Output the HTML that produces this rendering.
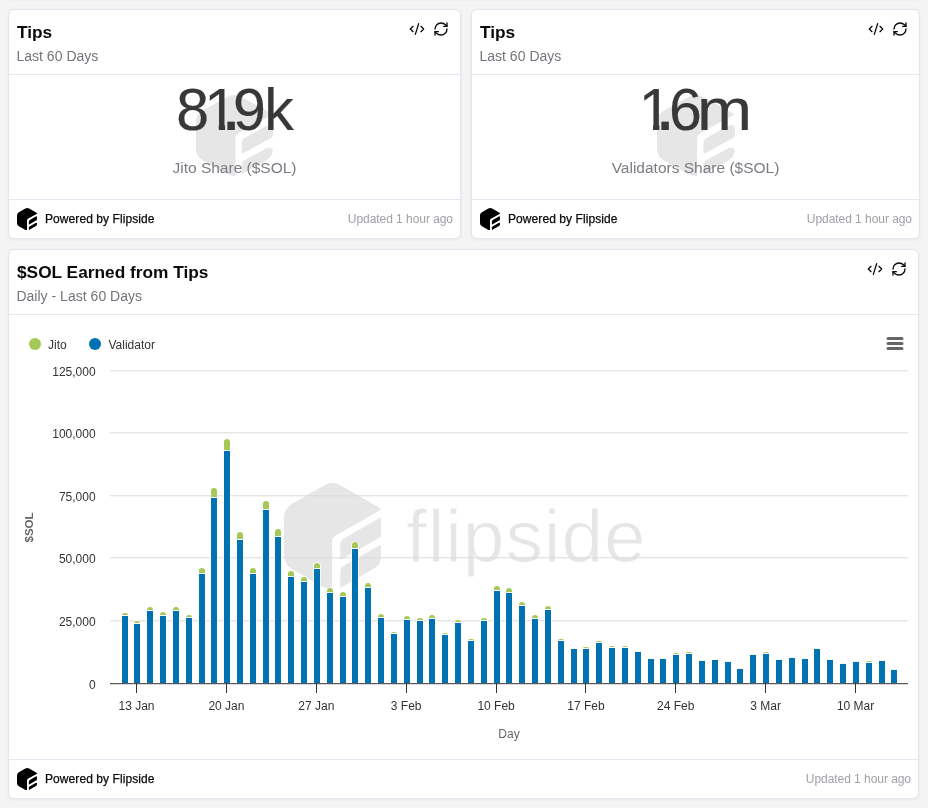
<!DOCTYPE html>
<html><head><meta charset="utf-8"><title>Tips</title>
<style>
html,body{margin:0;padding:0}
body{width:928px;height:808px;overflow:hidden;background:#f4f4f5;font-family:"Liberation Sans",Arial,sans-serif;position:relative}
.topsh{position:absolute;left:10px;top:0;width:908px;height:2px;background:linear-gradient(#ececed,#f4f4f5)}
.card{position:absolute;background:#fff;border:1px solid #dfe6f0;border-radius:6px;box-sizing:border-box;box-shadow:0 1px 3px rgba(0,0,0,0.06)}
.hr{position:absolute;height:1px;background:#e2e8f0}
.abs{position:absolute}
.ttl{position:absolute;margin-top:0.2px;font-weight:bold;font-size:17.3px;color:#0a0a0a;white-space:nowrap;line-height:20px}
.sub{position:absolute;margin-left:-0.6px;font-size:14px;color:#74747c;white-space:nowrap;line-height:16px;letter-spacing:0.02px}
.ic{position:absolute}
.big{position:absolute;font-size:59px;color:#383838;white-space:nowrap;line-height:60px;-webkit-text-stroke:0.22px #383838}
.big .one{display:inline-block;clip-path:polygon(0 0,20.7px 0,20.7px 60px,14.4px 60px,14.4px 44.8px,0 44.8px)}
.big .dot{font-size:76.7px;line-height:0}
.big .m{display:inline-block;transform:scaleX(1.12);transform-origin:0 0}
.lab{position:absolute;margin-top:0.6px;font-size:15.5px;color:#7b7b84;white-space:nowrap;line-height:18px;text-align:center}
.pw{position:absolute;margin-top:1px;letter-spacing:0.08px;font-size:12px;color:#0a0a0a;white-space:nowrap;line-height:16px;-webkit-text-stroke:0.25px #0a0a0a}
.upd{position:absolute;margin-top:1px;letter-spacing:-0.05px;font-size:12px;color:#a0a0a6;white-space:nowrap;line-height:14px}
.chart{position:absolute;left:0;top:0}
.wm{position:absolute;font-size:75px;color:#e6e6e6;white-space:nowrap;line-height:80px;letter-spacing:0.9px;-webkit-text-stroke:1px #fff}
</style></head><body>
<svg width="0" height="0" style="position:absolute"><defs>
<clipPath id="hexclip"><path d="M40.00,2.41A17.00,17.00 0 0 1 57.00,2.41L95.50,24.63A3.00,3.00 0 0 1 97.00,27.23L97.00,73.99A13.00,13.00 0 0 1 90.50,85.25L57.00,104.59A17.00,17.00 0 0 1 40.00,104.59L8.50,86.41A17.00,17.00 0 0 1 0.00,71.69L0.00,35.31A17.00,17.00 0 0 1 8.50,20.59Z"/></clipPath><clipPath id="hexclip3"><path d="M39.50,2.70A18.00,18.00 0 0 1 57.50,2.70L92.50,22.90A9.00,9.00 0 0 1 97.00,30.70L97.00,68.80A22.00,22.00 0 0 1 86.00,87.85L57.00,104.59A17.00,17.00 0 0 1 40.00,104.59L9.00,86.70A18.00,18.00 0 0 1 0.00,71.11L0.00,35.89A18.00,18.00 0 0 1 9.00,20.30Z"/></clipPath><clipPath id="hexclip2"><path d="M39.50,2.70A18.00,18.00 0 0 1 57.50,2.70L94.50,24.06A5.00,5.00 0 0 1 97.00,28.39L97.00,71.11A18.00,18.00 0 0 1 88.00,86.70L57.00,104.59A17.00,17.00 0 0 1 40.00,104.59L9.00,86.70A18.00,18.00 0 0 1 0.00,71.11L0.00,35.89A18.00,18.00 0 0 1 9.00,20.30Z"/></clipPath>
<symbol id="fslogo" viewBox="0 0 97 107" preserveAspectRatio="none"><g clip-path="url(#hexclip)"><path d="M-20.00,-20.00L120.00,-20.00L120.00,13.22L50.45,53.38A4.50,4.50 0 0 0 48.20,57.27L48.20,130.00L-20.00,130.00Z"/><path d="M56.30,61.35A6.50,6.50 0 0 1 59.55,55.72L97.00,34.10L97.00,53.70L57.80,76.33A1.00,1.00 0 0 1 56.30,75.47Z"/><path d="M56.30,88.75A6.50,6.50 0 0 1 59.55,83.12L97.00,61.50L97.00,140.00L56.30,140.00Z"/></g></symbol>
<symbol id="fslogo3" viewBox="0 0 97 107" preserveAspectRatio="none"><g clip-path="url(#hexclip3)"><path d="M-20.00,-20.00L120.00,-20.00L120.00,12.22L51.80,51.60A9.00,9.00 0 0 0 47.30,59.39L47.30,130.00L-20.00,130.00Z"/><path d="M56.20,64.75A9.00,9.00 0 0 1 60.70,56.96L88.64,40.83A5.57,5.57 0 0 1 97.00,45.65L97.00,51.84A6.00,6.00 0 0 1 94.00,57.03L57.70,77.99A1.00,1.00 0 0 1 56.20,77.12Z"/><path d="M56.20,94.35A9.00,9.00 0 0 1 60.70,86.56L88.00,70.80A6.00,6.00 0 0 1 97.00,75.99L97.00,140.00L56.20,140.00Z"/></g></symbol>
<symbol id="fslogo2" viewBox="0 0 97 107" preserveAspectRatio="none"><g clip-path="url(#hexclip2)"><path d="M-20.00,-20.00L120.00,-20.00L120.00,12.22L54.30,50.15A9.00,9.00 0 0 0 49.80,57.95L49.80,130.00L-20.00,130.00Z"/><path d="M57.70,63.89A9.00,9.00 0 0 1 62.20,56.09L89.50,40.33A5.00,5.00 0 0 1 97.00,44.66L97.00,52.41A5.00,5.00 0 0 1 94.50,56.74L59.20,77.12A1.00,1.00 0 0 1 57.70,76.26Z"/><path d="M57.70,93.49A9.00,9.00 0 0 1 62.20,85.69L89.50,69.93A5.00,5.00 0 0 1 97.00,74.26L97.00,140.00L57.70,140.00Z"/></g></symbol>
</defs></svg>
<div class="topsh"></div>
<div class="card" style="left:8px;top:9px;width:453px;height:230px"></div>
<div class="card" style="left:471px;top:9px;width:449px;height:230px"></div>
<div class="card" style="left:8px;top:249px;width:911px;height:550px"></div>

<!-- card 1 -->
<div class="ttl" style="left:17px;top:22px">Tips</div>
<div class="sub" style="left:17px;top:48px">Last 60 Days</div>
<svg class="ic" style="left:409px;top:21px" width="16" height="16" viewBox="0 0 24 24" fill="none" stroke="#0a0a0a" stroke-width="2" stroke-linecap="round" stroke-linejoin="round"><path d="m18 16 4-4-4-4"/><path d="m6 8-4 4 4 4"/><path d="m14.5 4-5 16"/></svg>
<svg class="ic" style="left:433px;top:21px" width="16" height="16" viewBox="0 0 24 24" fill="none" stroke="#0a0a0a" stroke-width="2" stroke-linecap="round" stroke-linejoin="round"><path d="M3 12a9 9 0 0 1 9-9 9.75 9.75 0 0 1 6.74 2.74L21 8"/><path d="M21 3v5h-5"/><path d="M21 12a9 9 0 0 1-9 9 9.75 9.75 0 0 1-6.74-2.74L3 16"/><path d="M8 16H3v5"/></svg>
<div class="hr" style="left:9px;top:74px;width:451px"></div>
<svg class="abs" style="left:196px;top:95px" width="77" height="81"><use href="#fslogo2" width="77" height="81" fill="#e6e6e6"/></svg>
<div class="big" id="big1" style="left:176.14px;top:79.5px"><span>8</span><span class="one" style="margin-left:-4.6px">1</span><span class="dot" style="margin-left:-16.76px">.</span><span style="margin-left:-8.67px">9</span><span style="margin-left:-1.72px">k</span></div>
<div class="lab" style="left:9px;width:451px;top:158px">Jito Share ($SOL)</div>
<div class="hr" style="left:9px;top:199px;width:451px"></div>
<svg class="abs" style="left:16.5px;top:207.5px" width="20.5" height="22.5"><use href="#fslogo3" width="20.5" height="22.5" fill="#000"/></svg>
<div class="pw" style="left:45px;top:210px">Powered by Flipside</div>
<div class="upd" style="right:475px;top:211px">Updated 1 hour ago</div>

<!-- card 2 -->
<div class="ttl" style="left:480px;top:22px">Tips</div>
<div class="sub" style="left:480px;top:48px">Last 60 Days</div>
<svg class="ic" style="left:868px;top:21px" width="16" height="16" viewBox="0 0 24 24" fill="none" stroke="#0a0a0a" stroke-width="2" stroke-linecap="round" stroke-linejoin="round"><path d="m18 16 4-4-4-4"/><path d="m6 8-4 4 4 4"/><path d="m14.5 4-5 16"/></svg>
<svg class="ic" style="left:892px;top:21px" width="16" height="16" viewBox="0 0 24 24" fill="none" stroke="#0a0a0a" stroke-width="2" stroke-linecap="round" stroke-linejoin="round"><path d="M3 12a9 9 0 0 1 9-9 9.75 9.75 0 0 1 6.74 2.74L21 8"/><path d="M21 3v5h-5"/><path d="M21 12a9 9 0 0 1-9 9 9.75 9.75 0 0 1-6.74-2.74L3 16"/><path d="M8 16H3v5"/></svg>
<div class="hr" style="left:472px;top:74px;width:447px"></div>
<svg class="abs" style="left:657px;top:95px" width="78" height="81"><use href="#fslogo2" width="78" height="81" fill="#e6e6e6"/></svg>
<div class="big" id="big2" style="left:638.65px;top:79.5px"><span class="one">1</span><span class="dot" style="margin-left:-16.96px">.</span><span style="margin-left:-6.8px">6</span><span class="m" style="margin-left:-4.81px">m</span></div>
<div class="lab" style="left:472px;width:447px;top:158px">Validators Share ($SOL)</div>
<div class="hr" style="left:472px;top:199px;width:447px"></div>
<svg class="abs" style="left:479.5px;top:207.5px" width="20.5" height="22.5"><use href="#fslogo3" width="20.5" height="22.5" fill="#000"/></svg>
<div class="pw" style="left:508px;top:210px">Powered by Flipside</div>
<div class="upd" style="right:16px;top:211px">Updated 1 hour ago</div>

<!-- card 3 -->
<div class="ttl" style="left:17px;top:262px">$SOL Earned from Tips</div>
<div class="sub" style="left:17px;top:288px">Daily - Last 60 Days</div>
<svg class="ic" style="left:867px;top:261px" width="16" height="16" viewBox="0 0 24 24" fill="none" stroke="#0a0a0a" stroke-width="2" stroke-linecap="round" stroke-linejoin="round"><path d="m18 16 4-4-4-4"/><path d="m6 8-4 4 4 4"/><path d="m14.5 4-5 16"/></svg>
<svg class="ic" style="left:891px;top:261px" width="16" height="16" viewBox="0 0 24 24" fill="none" stroke="#0a0a0a" stroke-width="2" stroke-linecap="round" stroke-linejoin="round"><path d="M3 12a9 9 0 0 1 9-9 9.75 9.75 0 0 1 6.74 2.74L21 8"/><path d="M21 3v5h-5"/><path d="M21 12a9 9 0 0 1-9 9 9.75 9.75 0 0 1-6.74-2.74L3 16"/><path d="M8 16H3v5"/></svg>
<div class="hr" style="left:9px;top:314px;width:909px"></div>
<svg class="abs" style="left:284px;top:483px" width="97" height="107"><use href="#fslogo" width="97" height="107" fill="#e6e6e6"/></svg>
<div class="wm" style="left:406px;top:496.2px">flipside</div>
<svg class="chart" width="928" height="808" viewBox="0 0 928 808">
<g font-family="'Liberation Sans', Arial, sans-serif" font-size="12" fill="#333">
<path d="M110,370.8H908" stroke="#dadada" stroke-width="1"/><path d="M110,432.8H908" stroke="#dadada" stroke-width="1"/><path d="M110,495.8H908" stroke="#dadada" stroke-width="1"/><path d="M110,557.8H908" stroke="#dadada" stroke-width="1"/><path d="M110,620.8H908" stroke="#dadada" stroke-width="1"/>
<g fill="#fff"><path d="M121.3,683V615.3A3.7,3 0 0 1 125,612.3A3.7,3 0 0 1 128.7,615.3V683Z"/><path d="M133.3,683V623.3A3.7,3 0 0 1 137,620.3A3.7,3 0 0 1 140.7,623.3V683Z"/><path d="M146.3,683V609.3A3.7,3 0 0 1 150,606.3A3.7,3 0 0 1 153.7,609.3V683Z"/><path d="M159.3,683V614.3A3.7,3 0 0 1 163,611.3A3.7,3 0 0 1 166.7,614.3V683Z"/><path d="M172.3,683V609.3A3.7,3 0 0 1 176,606.3A3.7,3 0 0 1 179.7,609.3V683Z"/><path d="M185.3,683V617.3A3.7,3 0 0 1 189,614.3A3.7,3 0 0 1 192.7,617.3V683Z"/><path d="M198.3,683V570.3A3.7,3 0 0 1 202,567.3A3.7,3 0 0 1 205.7,570.3V683Z"/><path d="M210.3,683V490.3A3.7,3 0 0 1 214,487.3A3.7,3 0 0 1 217.7,490.3V683Z"/><path d="M223.3,683V441.3A3.7,3 0 0 1 227,438.3A3.7,3 0 0 1 230.7,441.3V683Z"/><path d="M236.3,683V534.3A3.7,3 0 0 1 240,531.3A3.7,3 0 0 1 243.7,534.3V683Z"/><path d="M249.3,683V570.3A3.7,3 0 0 1 253,567.3A3.7,3 0 0 1 256.7,570.3V683Z"/><path d="M262.3,683V503.3A3.7,3 0 0 1 266,500.3A3.7,3 0 0 1 269.7,503.3V683Z"/><path d="M274.3,683V531.3A3.7,3 0 0 1 278,528.3A3.7,3 0 0 1 281.7,531.3V683Z"/><path d="M287.3,683V573.3A3.7,3 0 0 1 291,570.3A3.7,3 0 0 1 294.7,573.3V683Z"/><path d="M300.3,683V579.3A3.7,3 0 0 1 304,576.3A3.7,3 0 0 1 307.7,579.3V683Z"/><path d="M313.3,683V565.3A3.7,3 0 0 1 317,562.3A3.7,3 0 0 1 320.7,565.3V683Z"/><path d="M326.3,683V590.3A3.7,3 0 0 1 330,587.3A3.7,3 0 0 1 333.7,590.3V683Z"/><path d="M339.3,683V594.3A3.7,3 0 0 1 343,591.3A3.7,3 0 0 1 346.7,594.3V683Z"/><path d="M351.3,683V544.3A3.7,3 0 0 1 355,541.3A3.7,3 0 0 1 358.7,544.3V683Z"/><path d="M364.3,683V585.3A3.7,3 0 0 1 368,582.3A3.7,3 0 0 1 371.7,585.3V683Z"/><path d="M377.3,683V616.3A3.7,3 0 0 1 381,613.3A3.7,3 0 0 1 384.7,616.3V683Z"/><path d="M390.3,683V634.3A3.7,3 0 0 1 394,631.3A3.7,3 0 0 1 397.7,634.3V683Z"/><path d="M403.3,683V618.3A3.7,3 0 0 1 407,615.3A3.7,3 0 0 1 410.7,618.3V683Z"/><path d="M416.3,683V620.3A3.7,3 0 0 1 420,617.3A3.7,3 0 0 1 423.7,620.3V683Z"/><path d="M428.3,683V617.3A3.7,3 0 0 1 432,614.3A3.7,3 0 0 1 435.7,617.3V683Z"/><path d="M441.3,683V635.3A3.7,3 0 0 1 445,632.3A3.7,3 0 0 1 448.7,635.3V683Z"/><path d="M454.3,683V622.3A3.7,3 0 0 1 458,619.3A3.7,3 0 0 1 461.7,622.3V683Z"/><path d="M467.3,683V641.3A3.7,3 0 0 1 471,638.3A3.7,3 0 0 1 474.7,641.3V683Z"/><path d="M480.3,683V620.3A3.7,3 0 0 1 484,617.3A3.7,3 0 0 1 487.7,620.3V683Z"/><path d="M493.3,683V588.3A3.7,3 0 0 1 497,585.3A3.7,3 0 0 1 500.7,588.3V683Z"/><path d="M505.3,683V590.3A3.7,3 0 0 1 509,587.3A3.7,3 0 0 1 512.7,590.3V683Z"/><path d="M518.3,683V604.3A3.7,3 0 0 1 522,601.3A3.7,3 0 0 1 525.7,604.3V683Z"/><path d="M531.3,683V617.3A3.7,3 0 0 1 535,614.3A3.7,3 0 0 1 538.7,617.3V683Z"/><path d="M544.3,683V608.3A3.7,3 0 0 1 548,605.3A3.7,3 0 0 1 551.7,608.3V683Z"/><path d="M557.3,683V641.3A3.7,3 0 0 1 561,638.3A3.7,3 0 0 1 564.7,641.3V683Z"/><path d="M570.3,683V650.3A3.7,3 0 0 1 574,647.3A3.7,3 0 0 1 577.7,650.3V683Z"/><path d="M582.3,683V649.3A3.7,3 0 0 1 586,646.3A3.7,3 0 0 1 589.7,649.3V683Z"/><path d="M595.3,683V643.3A3.7,3 0 0 1 599,640.3A3.7,3 0 0 1 602.7,643.3V683Z"/><path d="M608.3,683V648.3A3.7,3 0 0 1 612,645.3A3.7,3 0 0 1 615.7,648.3V683Z"/><path d="M621.3,683V648.3A3.7,3 0 0 1 625,645.3A3.7,3 0 0 1 628.7,648.3V683Z"/><path d="M634.3,683V653.3A3.7,3 0 0 1 638,650.3A3.7,3 0 0 1 641.7,653.3V683Z"/><path d="M647.3,683V660.3A3.7,3 0 0 1 651,657.3A3.7,3 0 0 1 654.7,660.3V683Z"/><path d="M659.3,683V660.3A3.7,3 0 0 1 663,657.3A3.7,3 0 0 1 666.7,660.3V683Z"/><path d="M672.3,683V655.3A3.7,3 0 0 1 676,652.3A3.7,3 0 0 1 679.7,655.3V683Z"/><path d="M685.3,683V654.3A3.7,3 0 0 1 689,651.3A3.7,3 0 0 1 692.7,654.3V683Z"/><path d="M698.3,683V662.3A3.7,3 0 0 1 702,659.3A3.7,3 0 0 1 705.7,662.3V683Z"/><path d="M711.3,683V661.3A3.7,3 0 0 1 715,658.3A3.7,3 0 0 1 718.7,661.3V683Z"/><path d="M724.3,683V663.3A3.7,3 0 0 1 728,660.3A3.7,3 0 0 1 731.7,663.3V683Z"/><path d="M736.3,683V670.3A3.7,3 0 0 1 740,667.3A3.7,3 0 0 1 743.7,670.3V683Z"/><path d="M749.3,683V656.3A3.7,3 0 0 1 753,653.3A3.7,3 0 0 1 756.7,656.3V683Z"/><path d="M762.3,683V654.3A3.7,3 0 0 1 766,651.3A3.7,3 0 0 1 769.7,654.3V683Z"/><path d="M775.3,683V661.3A3.7,3 0 0 1 779,658.3A3.7,3 0 0 1 782.7,661.3V683Z"/><path d="M788.3,683V659.3A3.7,3 0 0 1 792,656.3A3.7,3 0 0 1 795.7,659.3V683Z"/><path d="M801.3,683V660.3A3.7,3 0 0 1 805,657.3A3.7,3 0 0 1 808.7,660.3V683Z"/><path d="M813.3,683V650.3A3.7,3 0 0 1 817,647.3A3.7,3 0 0 1 820.7,650.3V683Z"/><path d="M826.3,683V661.3A3.7,3 0 0 1 830,658.3A3.7,3 0 0 1 833.7,661.3V683Z"/><path d="M839.3,683V665.3A3.7,3 0 0 1 843,662.3A3.7,3 0 0 1 846.7,665.3V683Z"/><path d="M852.3,683V663.3A3.7,3 0 0 1 856,660.3A3.7,3 0 0 1 859.7,663.3V683Z"/><path d="M865.3,683V663.3A3.7,3 0 0 1 869,660.3A3.7,3 0 0 1 872.7,663.3V683Z"/><path d="M878.3,683V662.3A3.7,3 0 0 1 882,659.3A3.7,3 0 0 1 885.7,662.3V683Z"/><path d="M890.3,683V671.3A3.7,3 0 0 1 894,668.3A3.7,3 0 0 1 897.7,671.3V683Z"/></g>
<rect x="122" y="616" width="6" height="67" fill="#0072b2"/>
<path d="M122,615V615A3,2 0 0 1 125,613A3,2 0 0 1 128,615V615Z" fill="#a5c957"/>
<rect x="134" y="624" width="6" height="59" fill="#0072b2"/>
<path d="M134,623V623A3,2 0 0 1 137,621A3,2 0 0 1 140,623V623Z" fill="#a5c957"/>
<rect x="147" y="611" width="6" height="72" fill="#0072b2"/>
<path d="M147,610V610A3,3 0 0 1 150,607A3,3 0 0 1 153,610V610Z" fill="#a5c957"/>
<rect x="160" y="616" width="6" height="67" fill="#0072b2"/>
<path d="M160,615V615A3,3 0 0 1 163,612A3,3 0 0 1 166,615V615Z" fill="#a5c957"/>
<rect x="173" y="611" width="6" height="72" fill="#0072b2"/>
<path d="M173,610V610A3,3 0 0 1 176,607A3,3 0 0 1 179,610V610Z" fill="#a5c957"/>
<rect x="186" y="618" width="6" height="65" fill="#0072b2"/>
<path d="M186,617V617A3,2 0 0 1 189,615A3,2 0 0 1 192,617V617Z" fill="#a5c957"/>
<rect x="199" y="574" width="6" height="109" fill="#0072b2"/>
<path d="M199,573V571A3,3 0 0 1 202,568A3,3 0 0 1 205,571V573Z" fill="#a5c957"/>
<rect x="211" y="498" width="6" height="185" fill="#0072b2"/>
<path d="M211,497V491A3,3 0 0 1 214,488A3,3 0 0 1 217,491V497Z" fill="#a5c957"/>
<rect x="224" y="451" width="6" height="232" fill="#0072b2"/>
<path d="M224,450V442A3,3 0 0 1 227,439A3,3 0 0 1 230,442V450Z" fill="#a5c957"/>
<rect x="237" y="540" width="6" height="143" fill="#0072b2"/>
<path d="M237,539V535A3,3 0 0 1 240,532A3,3 0 0 1 243,535V539Z" fill="#a5c957"/>
<rect x="250" y="574" width="6" height="109" fill="#0072b2"/>
<path d="M250,573V571A3,3 0 0 1 253,568A3,3 0 0 1 256,571V573Z" fill="#a5c957"/>
<rect x="263" y="510" width="6" height="173" fill="#0072b2"/>
<path d="M263,509V504A3,3 0 0 1 266,501A3,3 0 0 1 269,504V509Z" fill="#a5c957"/>
<rect x="275" y="537" width="6" height="146" fill="#0072b2"/>
<path d="M275,536V532A3,3 0 0 1 278,529A3,3 0 0 1 281,532V536Z" fill="#a5c957"/>
<rect x="288" y="577" width="6" height="106" fill="#0072b2"/>
<path d="M288,576V574A3,3 0 0 1 291,571A3,3 0 0 1 294,574V576Z" fill="#a5c957"/>
<rect x="301" y="582" width="6" height="101" fill="#0072b2"/>
<path d="M301,581V580A3,3 0 0 1 304,577A3,3 0 0 1 307,580V581Z" fill="#a5c957"/>
<rect x="314" y="569" width="6" height="114" fill="#0072b2"/>
<path d="M314,568V566A3,3 0 0 1 317,563A3,3 0 0 1 320,566V568Z" fill="#a5c957"/>
<rect x="327" y="593" width="6" height="90" fill="#0072b2"/>
<path d="M327,592V591A3,3 0 0 1 330,588A3,3 0 0 1 333,591V592Z" fill="#a5c957"/>
<rect x="340" y="597" width="6" height="86" fill="#0072b2"/>
<path d="M340,596V595A3,3 0 0 1 343,592A3,3 0 0 1 346,595V596Z" fill="#a5c957"/>
<rect x="352" y="549" width="6" height="134" fill="#0072b2"/>
<path d="M352,548V545A3,3 0 0 1 355,542A3,3 0 0 1 358,545V548Z" fill="#a5c957"/>
<rect x="365" y="588" width="6" height="95" fill="#0072b2"/>
<path d="M365,587V586A3,3 0 0 1 368,583A3,3 0 0 1 371,586V587Z" fill="#a5c957"/>
<rect x="378" y="618" width="6" height="65" fill="#0072b2"/>
<path d="M378,617V617A3,3 0 0 1 381,614A3,3 0 0 1 384,617V617Z" fill="#a5c957"/>
<rect x="391" y="634" width="6" height="49" fill="#0072b2"/>
<path d="M391,633V633A3,1 0 0 1 394,632A3,1 0 0 1 397,633V633Z" fill="#a5c957"/>
<rect x="404" y="620" width="6" height="63" fill="#0072b2"/>
<path d="M404,619V619A3,3 0 0 1 407,616A3,3 0 0 1 410,619V619Z" fill="#a5c957"/>
<rect x="417" y="621" width="6" height="62" fill="#0072b2"/>
<path d="M417,620V620A3,2 0 0 1 420,618A3,2 0 0 1 423,620V620Z" fill="#a5c957"/>
<rect x="429" y="619" width="6" height="64" fill="#0072b2"/>
<path d="M429,618V618A3,3 0 0 1 432,615A3,3 0 0 1 435,618V618Z" fill="#a5c957"/>
<rect x="442" y="635" width="6" height="48" fill="#0072b2"/>
<path d="M442,634V634A3,1 0 0 1 445,633A3,1 0 0 1 448,634V634Z" fill="#a5c957"/>
<rect x="455" y="623" width="6" height="60" fill="#0072b2"/>
<path d="M455,622V622A3,2 0 0 1 458,620A3,2 0 0 1 461,622V622Z" fill="#a5c957"/>
<rect x="468" y="641" width="6" height="42" fill="#0072b2"/>
<path d="M468,640V640A3,1 0 0 1 471,639A3,1 0 0 1 474,640V640Z" fill="#a5c957"/>
<rect x="481" y="621" width="6" height="62" fill="#0072b2"/>
<path d="M481,620V620A3,2 0 0 1 484,618A3,2 0 0 1 487,620V620Z" fill="#a5c957"/>
<rect x="494" y="591" width="6" height="92" fill="#0072b2"/>
<path d="M494,590V589A3,3 0 0 1 497,586A3,3 0 0 1 500,589V590Z" fill="#a5c957"/>
<rect x="506" y="593" width="6" height="90" fill="#0072b2"/>
<path d="M506,592V591A3,3 0 0 1 509,588A3,3 0 0 1 512,591V592Z" fill="#a5c957"/>
<rect x="519" y="606" width="6" height="77" fill="#0072b2"/>
<path d="M519,605V605A3,3 0 0 1 522,602A3,3 0 0 1 525,605V605Z" fill="#a5c957"/>
<rect x="532" y="619" width="6" height="64" fill="#0072b2"/>
<path d="M532,618V618A3,3 0 0 1 535,615A3,3 0 0 1 538,618V618Z" fill="#a5c957"/>
<rect x="545" y="610" width="6" height="73" fill="#0072b2"/>
<path d="M545,609V609A3,3 0 0 1 548,606A3,3 0 0 1 551,609V609Z" fill="#a5c957"/>
<rect x="558" y="641" width="6" height="42" fill="#0072b2"/>
<path d="M558,640V640A3,1 0 0 1 561,639A3,1 0 0 1 564,640V640Z" fill="#a5c957"/>
<rect x="571" y="649" width="6" height="34" fill="#0072b2"/>
<rect x="572" y="648" width="4" height="1" fill="#a5c957" opacity="0.18"/>
<rect x="583" y="649" width="6" height="34" fill="#0072b2"/>
<path d="M583,648V648A3,1 0 0 1 586,647A3,1 0 0 1 589,648V648Z" fill="#a5c957"/>
<rect x="596" y="643" width="6" height="40" fill="#0072b2"/>
<path d="M596,642V642A3,1 0 0 1 599,641A3,1 0 0 1 602,642V642Z" fill="#a5c957"/>
<rect x="609" y="648" width="6" height="35" fill="#0072b2"/>
<path d="M609,647V647A3,1 0 0 1 612,646A3,1 0 0 1 615,647V647Z" fill="#a5c957"/>
<rect x="622" y="648" width="6" height="35" fill="#0072b2"/>
<path d="M622,647V647A3,1 0 0 1 625,646A3,1 0 0 1 628,647V647Z" fill="#a5c957"/>
<rect x="635" y="652" width="6" height="31" fill="#0072b2"/>
<rect x="636" y="651" width="4" height="1" fill="#a5c957" opacity="0.18"/>
<rect x="648" y="659" width="6" height="24" fill="#0072b2"/>
<rect x="649" y="658" width="4" height="1" fill="#a5c957" opacity="0.18"/>
<rect x="660" y="659" width="6" height="24" fill="#0072b2"/>
<rect x="661" y="658" width="4" height="1" fill="#a5c957" opacity="0.18"/>
<rect x="673" y="655" width="6" height="28" fill="#0072b2"/>
<path d="M673,654V654A3,1 0 0 1 676,653A3,1 0 0 1 679,654V654Z" fill="#a5c957"/>
<rect x="686" y="654" width="6" height="29" fill="#0072b2"/>
<path d="M686,653V653A3,1 0 0 1 689,652A3,1 0 0 1 692,653V653Z" fill="#a5c957"/>
<rect x="699" y="661" width="6" height="22" fill="#0072b2"/>
<rect x="700" y="660" width="4" height="1" fill="#a5c957" opacity="0.18"/>
<rect x="712" y="660" width="6" height="23" fill="#0072b2"/>
<rect x="713" y="659" width="4" height="1" fill="#a5c957" opacity="0.18"/>
<rect x="725" y="662" width="6" height="21" fill="#0072b2"/>
<rect x="726" y="661" width="4" height="1" fill="#a5c957" opacity="0.18"/>
<rect x="737" y="669" width="6" height="14" fill="#0072b2"/>
<rect x="738" y="668" width="4" height="1" fill="#a5c957" opacity="0.18"/>
<rect x="750" y="655" width="6" height="28" fill="#0072b2"/>
<rect x="751" y="654" width="4" height="1" fill="#a5c957" opacity="0.18"/>
<rect x="763" y="654" width="6" height="29" fill="#0072b2"/>
<path d="M763,653V653A3,1 0 0 1 766,652A3,1 0 0 1 769,653V653Z" fill="#a5c957"/>
<rect x="776" y="660" width="6" height="23" fill="#0072b2"/>
<rect x="777" y="659" width="4" height="1" fill="#a5c957" opacity="0.18"/>
<rect x="789" y="658" width="6" height="25" fill="#0072b2"/>
<rect x="790" y="657" width="4" height="1" fill="#a5c957" opacity="0.18"/>
<rect x="802" y="659" width="6" height="24" fill="#0072b2"/>
<rect x="803" y="658" width="4" height="1" fill="#a5c957" opacity="0.18"/>
<rect x="814" y="649" width="6" height="34" fill="#0072b2"/>
<rect x="815" y="648" width="4" height="1" fill="#a5c957" opacity="0.18"/>
<rect x="827" y="660" width="6" height="23" fill="#0072b2"/>
<rect x="828" y="659" width="4" height="1" fill="#a5c957" opacity="0.18"/>
<rect x="840" y="664" width="6" height="19" fill="#0072b2"/>
<rect x="841" y="663" width="4" height="1" fill="#a5c957" opacity="0.18"/>
<rect x="853" y="662" width="6" height="21" fill="#0072b2"/>
<rect x="854" y="661" width="4" height="1" fill="#a5c957" opacity="0.18"/>
<rect x="866" y="663" width="6" height="20" fill="#0072b2"/>
<path d="M866,662V662A3,1 0 0 1 869,661A3,1 0 0 1 872,662V662Z" fill="#a5c957"/>
<rect x="879" y="661" width="6" height="22" fill="#0072b2"/>
<rect x="880" y="660" width="4" height="1" fill="#a5c957" opacity="0.18"/>
<rect x="891" y="670" width="6" height="13" fill="#0072b2"/>
<rect x="892" y="669" width="4" height="1" fill="#a5c957" opacity="0.18"/>
<path d="M110,683.7H908" stroke="#333" stroke-width="1"/>
<path d="M136.5,683V693" stroke="#333" stroke-width="1"/><path d="M226.5,683V693" stroke="#333" stroke-width="1"/><path d="M316.5,683V693" stroke="#333" stroke-width="1"/><path d="M406.5,683V693" stroke="#333" stroke-width="1"/><path d="M496.5,683V693" stroke="#333" stroke-width="1"/><path d="M585.5,683V693" stroke="#333" stroke-width="1"/><path d="M675.5,683V693" stroke="#333" stroke-width="1"/><path d="M765.5,683V693" stroke="#333" stroke-width="1"/><path d="M855.5,683V693" stroke="#333" stroke-width="1"/>
<text x="95.6" y="375.5" text-anchor="end">125,000</text><text x="95.6" y="437.5" text-anchor="end">100,000</text><text x="95.6" y="500.5" text-anchor="end">75,000</text><text x="95.6" y="562.5" text-anchor="end">50,000</text><text x="95.6" y="625.5" text-anchor="end">25,000</text><text x="95.6" y="688.5" text-anchor="end">0</text>
<text x="136.5" y="710" text-anchor="middle">13 Jan</text><text x="226.4" y="710" text-anchor="middle">20 Jan</text><text x="316.3" y="710" text-anchor="middle">27 Jan</text><text x="406.2" y="710" text-anchor="middle">3 Feb</text><text x="496.1" y="710" text-anchor="middle">10 Feb</text><text x="586.0" y="710" text-anchor="middle">17 Feb</text><text x="675.8" y="710" text-anchor="middle">24 Feb</text><text x="765.7" y="710" text-anchor="middle">3 Mar</text><text x="855.6" y="710" text-anchor="middle">10 Mar</text>
<text x="509" y="738" text-anchor="middle" fill="#666">Day</text>
<text transform="translate(33,527.5) rotate(-90)" text-anchor="middle" fill="#666" font-weight="bold" font-size="11.5">$SOL</text>
<circle cx="35" cy="344" r="6" fill="#a5c957"/><text x="48" y="348.5">Jito</text>
<circle cx="95" cy="344" r="6" fill="#0072b2"/><text x="108.5" y="348.5">Validator</text>
<path d="M888,338.5H902M888,343.5H902M888,348.5H902" stroke="#666" stroke-width="3" stroke-linecap="round"/>
</g></svg>
<div class="hr" style="left:9px;top:759px;width:909px"></div>
<svg class="abs" style="left:16.5px;top:767.5px" width="20.5" height="22.5"><use href="#fslogo3" width="20.5" height="22.5" fill="#000"/></svg>
<div class="pw" style="left:45px;top:770px">Powered by Flipside</div>
<div class="upd" style="right:17px;top:771px">Updated 1 hour ago</div>
</body></html>
